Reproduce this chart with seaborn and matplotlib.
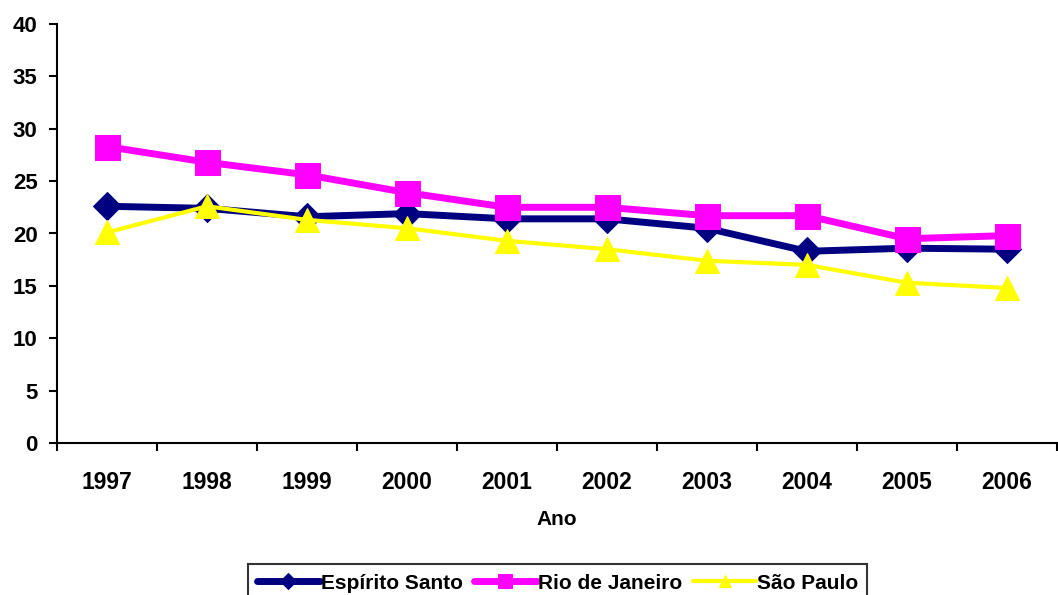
import matplotlib
matplotlib.use("Agg")
import matplotlib.pyplot as plt
import seaborn as sns
import pandas as pd
import numpy as np

sns.set_theme(style="white")
plt.rcParams["font.family"] = ["Liberation Sans", "DejaVu Sans"]
plt.rcParams["font.weight"] = "bold"
plt.rcParams["text.color"] = "black"
plt.rcParams["axes.labelcolor"] = "black"
plt.rcParams["xtick.color"] = "black"
plt.rcParams["ytick.color"] = "black"

anos = ["1997", "1998", "1999", "2000", "2001", "2002", "2003", "2004", "2005", "2006"]
espirito_santo = [22.6, 22.4, 21.6, 21.9, 21.4, 21.4, 20.5, 18.3, 18.6, 18.5]
rio_de_janeiro = [28.3, 26.8, 25.6, 23.9, 22.5, 22.5, 21.7, 21.7, 19.5, 19.8]
sao_paulo = [20.1, 22.6, 21.3, 20.5, 19.3, 18.5, 17.4, 17.0, 15.3, 14.8]
series_names = ["Espírito Santo", "Rio de Janeiro", "São Paulo"]

df = pd.DataFrame({
    "pos": list(range(len(anos))) * 3,
    "valor": espirito_santo + rio_de_janeiro + sao_paulo,
    "serie": np.repeat(series_names, len(anos)),
})

colors = {"Espírito Santo": "#000080", "Rio de Janeiro": "#FF00FF", "São Paulo": "#FFFF00"}
markers = {"Espírito Santo": "D", "Rio de Janeiro": "s", "São Paulo": "^"}
widths = {"Espírito Santo": 5.0, "Rio de Janeiro": 5.0, "São Paulo": 3.0}
msizes = {"Espírito Santo": 14, "Rio de Janeiro": 18, "São Paulo": 17}

fig = plt.figure(figsize=(10.58, 5.95), dpi=100)
ax = fig.add_axes([57 / 1058, 1 - 443 / 595, 1000 / 1058, 419 / 595])

for name in series_names:
    sub = df[df["serie"] == name]
    sns.lineplot(data=sub, x="pos", y="valor", ax=ax, color=colors[name],
                 marker=markers[name], markersize=msizes[name],
                 markeredgecolor=colors[name], linewidth=widths[name],
                 label=name, legend=False)

ax.set_xlim(-0.5, len(anos) - 0.5)
ax.set_ylim(0, 40)
ax.set_yticks(range(0, 41, 5))
ax.set_xticks(np.arange(-0.5, len(anos), 1.0))
ax.set_xticklabels([])
ax.set_xticks(range(len(anos)), minor=True)
ax.set_xticklabels(anos, minor=True)
ax.tick_params(axis="x", which="major", length=6, width=1.5, direction="out", bottom=True)
ax.tick_params(axis="x", which="minor", length=0, pad=20, labelsize=16.5)
ax.tick_params(axis="y", length=6, width=1.5, direction="out", left=True, labelsize=16, pad=8)
for lbl in ax.get_xticklabels(minor=True) + ax.get_yticklabels():
    lbl.set_fontweight("bold")

for side in ["top", "right"]:
    ax.spines[side].set_visible(False)
for side in ["left", "bottom"]:
    ax.spines[side].set_color("black")
    ax.spines[side].set_linewidth(1.5)

ax.set_xlabel("Ano", fontsize=15, fontweight="bold", labelpad=12)
ax.set_ylabel("")

handles, labels = ax.get_legend_handles_labels()
leg = fig.legend(handles, labels, loc="lower center", bbox_to_anchor=(0.527, -0.012),
                 ncol=3, frameon=True, fancybox=False, edgecolor="black",
                 prop={"weight": "bold", "size": 15}, handlelength=3.0,
                 handletextpad=0.05, columnspacing=0.55, borderpad=0.45,
                 borderaxespad=0.0, markerscale=0.55)
leg.get_frame().set_linewidth(1.5)

fig.savefig("out.png", dpi=100)
